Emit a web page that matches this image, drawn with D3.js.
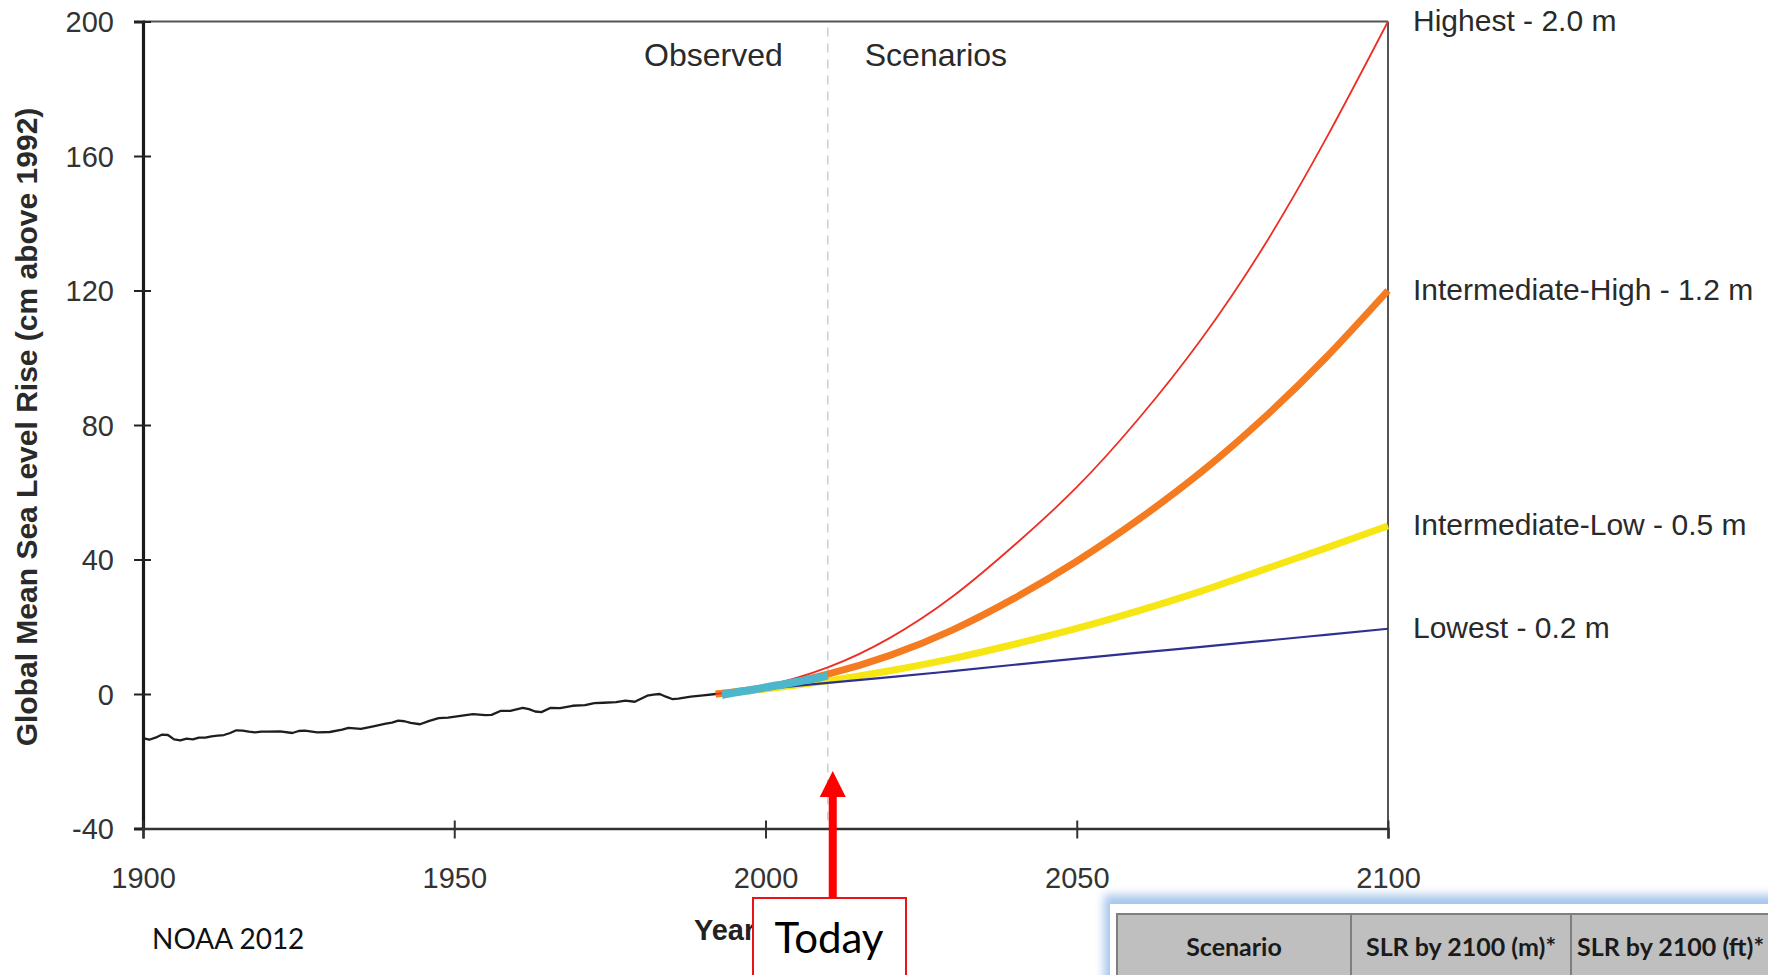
<!DOCTYPE html>
<html>
<head>
<meta charset="utf-8">
<script src="https://cdn.jsdelivr.net/npm/d3@7"></script>
<style>
  html, body { margin: 0; padding: 0; background: #fff; }
  svg { display: block; }
  text { font-family: "Liberation Sans", Arial, Helvetica, sans-serif; }
</style>
</head>
<body>
<svg id="chart" width="1768" height="975"></svg>
<script>
// ---------------- data ----------------
const xTicks = [1900, 1950, 2000, 2050, 2100];
const yTicks = [-40, 0, 40, 80, 120, 160, 200];

// observed tide-gauge record (cm above 1992)
const tgYears  = [1900, 1901, 1902, 1903, 1904, 1905, 1906, 1907, 1908, 1909, 1910, 1911, 1912, 1913, 1914, 1915, 1916, 1917, 1918, 1919, 1920, 1922, 1924, 1925, 1926, 1928, 1930, 1932, 1933, 1935, 1937, 1939, 1940, 1941, 1942, 1943, 1944.5, 1946, 1947.5, 1949, 1951, 1953, 1955, 1956, 1957.5, 1959, 1961, 1962, 1963, 1964, 1965.5, 1967, 1969, 1971, 1972.5, 1974, 1976, 1977.5, 1979, 1980, 1981, 1982, 1983, 1984, 1985, 1986, 1988, 1990, 1992];
const tgValues = [-13.1, -13.6, -13.0, -12.1, -12.2, -13.5, -13.8, -13.3, -13.5, -13.0, -13.0, -12.6, -12.4, -12.2, -11.6, -10.8, -10.9, -11.2, -11.4, -11.2, -11.2, -11.1, -11.6, -11.0, -10.9, -11.4, -11.3, -10.6, -10.1, -10.4, -9.6, -8.8, -8.5, -7.9, -8.1, -8.6, -9.0, -8.0, -7.2, -7.0, -6.5, -6.0, -6.3, -6.2, -5.0, -5.0, -4.1, -4.5, -5.2, -5.4, -4.1, -4.2, -3.5, -3.3, -2.7, -2.6, -2.4, -2.0, -2.3, -1.4, -0.5, -0.2, 0.0, -0.8, -1.5, -1.4, -0.8, -0.4, 0.0];

// observed satellite record
const satYears  = [1993, 1995, 1997, 1999, 2001, 2003, 2005, 2007, 2009, 2010];
const satValues = [-0.3, 0.4, 1.0, 1.6, 2.3, 2.9, 3.6, 4.3, 5.0, 5.5];

// scenarios
const scenarioYears = [1992, 2000, 2010, 2020, 2030, 2040, 2050, 2060, 2070, 2080, 2090, 2100];
const highest = [0, 2.4, 7.9, 16.7, 28.9, 44.3, 61.5, 82, 105.5, 133, 165, 200];
const intHigh = [0, 1.9, 5.9, 11.5, 19, 28.5, 39.5, 52, 66, 82, 100, 120];
const intLow  = [0, 1.5, 3.9, 6.9, 10.5, 14.8, 19.5, 24.8, 30.6, 37, 43.4, 50];
const lowest  = [0, 1.5, 3.3, 5.0, 6.8, 8.7, 10.5, 12.3, 14.0, 15.8, 17.6, 19.4];
const scenarioNames = ["Highest - 2.0 m", "Intermediate-High - 1.2 m", "Intermediate-Low - 0.5 m", "Lowest - 0.2 m"];

const todayYear = 2010;
const periodLabels = ["Observed", "Scenarios"];
const tableHeaders = ["Scenario", "SLR by 2100 (m)*", "SLR by 2100 (ft)*"];

// ---------------- layout ----------------
const svg = d3.select("#chart");
const L = 143, R = 1388, T = 21.5, B = 828.5;
const x = d3.scaleLinear().domain([1900, 2100]).range([L, R]);
const y = d3.scaleLinear().domain([-40, 200]).range([B, T]);

const defs = svg.append("defs");
const f = defs.append("filter").attr("id", "glow").attr("x", "-20%").attr("y", "-50%").attr("width", "140%").attr("height", "200%");
f.append("feGaussianBlur").attr("stdDeviation", 5);

// frame: top and right
svg.append("line").attr("x1", L).attr("x2", R).attr("y1", T).attr("y2", T).attr("stroke", "#555").attr("stroke-width", 2);
svg.append("line").attr("x1", R).attr("x2", R).attr("y1", T).attr("y2", B).attr("stroke", "#555").attr("stroke-width", 2);

// dashed "today" divider
svg.append("line")
  .attr("x1", x(todayYear)).attr("x2", x(todayYear))
  .attr("y1", T + 6).attr("y2", B)
  .attr("stroke", "#cfcfcf").attr("stroke-width", 1.6).attr("stroke-dasharray", "9,7");

// period labels
svg.append("text").attr("x", x(todayYear) - 45).attr("y", 66).attr("text-anchor", "end")
  .attr("font-size", 32).attr("fill", "#2a2a2a").text(periodLabels[0]);
svg.append("text").attr("x", x(todayYear) + 37).attr("y", 66).attr("text-anchor", "start")
  .attr("font-size", 32).attr("fill", "#2a2a2a").text(periodLabels[1]);

// scenario lines
const line = d3.line().x(d => x(d[0])).y(d => y(d[1])).curve(d3.curveNatural);
const series = [
  { vals: intLow,  color: "#f6e614", w: 7 },
  { vals: lowest,  color: "#2e3192", w: 2.2 },
  { vals: intHigh, color: "#f47b20", w: 7 },
  { vals: highest, color: "#ee2e24", w: 1.8 }
];
series.forEach(s => {
  svg.append("path")
    .datum(scenarioYears.map((yr, i) => [yr, s.vals[i]]))
    .attr("d", line).attr("fill", "none")
    .attr("stroke", s.color).attr("stroke-width", s.w).attr("stroke-linecap", "butt");
});

// observed tide gauge
svg.append("path")
  .datum(tgYears.map((yr, i) => [yr, tgValues[i]]))
  .attr("d", d3.line().x(d => x(d[0])).y(d => y(d[1])))
  .attr("fill", "none").attr("stroke", "#1e1e1e").attr("stroke-width", 2.3).attr("stroke-linejoin", "round");

// observed satellite
svg.append("path")
  .datum(satYears.map((yr, i) => [yr, satValues[i]]))
  .attr("d", d3.line().x(d => x(d[0])).y(d => y(d[1])).curve(d3.curveMonotoneX))
  .attr("fill", "none").attr("stroke", "#4cb6cc").attr("stroke-width", 8);

// scenario end labels
const ends = [highest, intHigh, intLow, lowest];
ends.forEach((vals, i) => {
  svg.append("text")
    .attr("x", R + 25).attr("y", y(vals[vals.length - 1]) - 1).attr("dy", "0.35em")
    .attr("font-size", 30).attr("fill", "#2a2a2a").text(scenarioNames[i]);
});

// axes
const yAxis = svg.append("g").attr("transform", `translate(${L},0)`)
  .call(d3.axisLeft(y).tickValues(yTicks).tickSize(9).tickFormat(d => String(d)));
yAxis.select(".domain").attr("stroke", "#1a1a1a").attr("stroke-width", 3.2);
yAxis.selectAll(".tick line").attr("x1", 8).attr("stroke", "#222").attr("stroke-width", 2);
yAxis.selectAll(".tick text").attr("x", -29).attr("dy", "0.35em")
  .attr("font-size", 29).attr("fill", "#333").style("font-family", "'Liberation Sans', Arial, sans-serif");

const xAxis = svg.append("g").attr("transform", `translate(0,${B})`)
  .call(d3.axisBottom(x).tickValues(xTicks).tickSize(10).tickFormat(d => String(d)));
xAxis.select(".domain").attr("stroke", "#333").attr("stroke-width", 2.5);
xAxis.selectAll(".tick line").attr("y1", -8).attr("stroke", "#333").attr("stroke-width", 2);
xAxis.selectAll(".tick text").attr("y", 59).attr("dy", 0)
  .attr("font-size", 29).attr("fill", "#333").style("font-family", "'Liberation Sans', Arial, sans-serif");

// axis titles
svg.append("text")
  .attr("transform", `translate(37,${(T + B) / 2 + 2}) rotate(-90)`)
  .attr("text-anchor", "middle").attr("font-size", 30).attr("font-weight", "bold")
  .attr("fill", "#2a2a2a").text("Global Mean Sea Level Rise (cm above 1992)");
svg.append("text").attr("x", 694).attr("y", 940)
  .attr("font-size", 29).attr("font-weight", "bold").attr("fill", "#222").text("Year");

// source
svg.append("text").attr("x", 152).attr("y", 949)
  .style("font-family", "Lato, 'Open Sans', sans-serif")
  .attr("font-size", 28).attr("fill", "#111").text("NOAA 2012");

// "Today" annotation
const ax = x(todayYear) + 5;
svg.append("rect").attr("x", 753).attr("y", 898).attr("width", 153).attr("height", 100)
  .attr("fill", "#fff").attr("stroke", "#e8141a").attr("stroke-width", 2);
svg.append("line").attr("x1", ax).attr("x2", ax).attr("y1", 898).attr("y2", 795)
  .attr("stroke", "#ff0000").attr("stroke-width", 8);
svg.append("path")
  .attr("d", `M${ax - 13},797 L${ax + 13},797 L${ax},771 Z`).attr("fill", "#ff0000");
svg.append("text").attr("x", 829).attr("y", 953).attr("text-anchor", "middle")
  .style("font-family", "Lato, 'Open Sans', sans-serif")
  .attr("font-size", 42).attr("fill", "#000").text("Today");

// table fragment (bottom right)
svg.append("rect").attr("x", 1104).attr("y", 895).attr("width", 720).attr("height", 160)
  .attr("fill", "#a6c6ec").attr("filter", "url(#glow)");
svg.append("rect").attr("x", 1110).attr("y", 904).attr("width", 720).attr("height", 160).attr("fill", "#fff");
const colX = [1117, 1351, 1571, 1800];
tableHeaders.forEach((h, i) => {
  svg.append("rect").attr("x", colX[i]).attr("y", 914).attr("width", colX[i + 1] - colX[i]).attr("height", 80)
    .attr("fill", "#bfbfbf").attr("stroke", "#7f7f7f").attr("stroke-width", 2);
  const last = i === tableHeaders.length - 1;
  svg.append("text")
    .attr("x", last ? colX[i] + 6 : (colX[i] + colX[i + 1]) / 2).attr("y", 956)
    .attr("text-anchor", last ? "start" : "middle").style("font-family", "Lato, 'Open Sans', sans-serif")
    .attr("font-weight", "bold").attr("font-size", 25).attr("fill", "#1a1a1a").text(h);
});
</script>
</body>
</html>
